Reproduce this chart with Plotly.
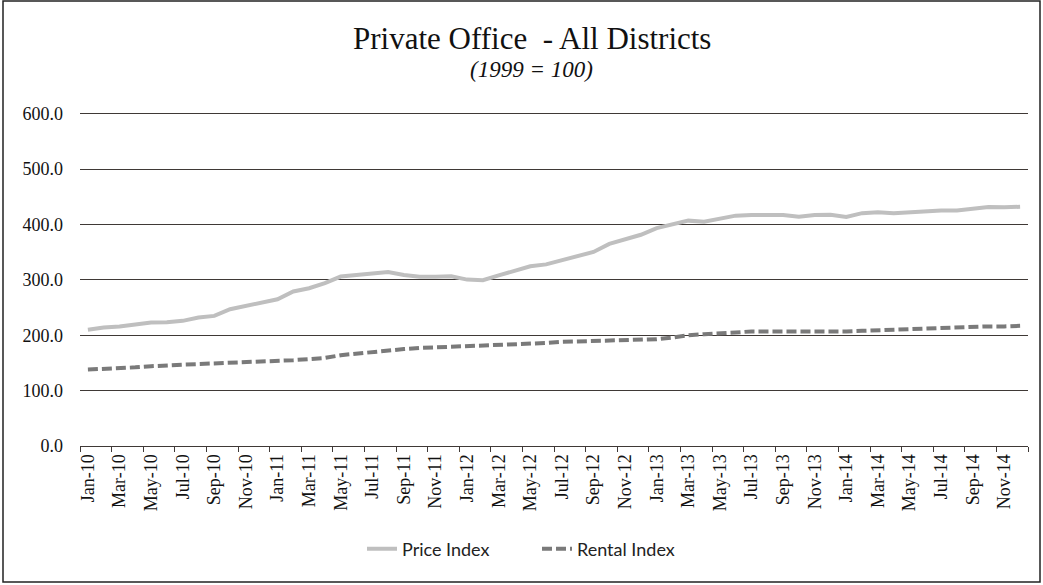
import plotly.graph_objects as go

months = ["Jan", "Feb", "Mar", "Apr", "May", "Jun", "Jul", "Aug", "Sep", "Oct", "Nov", "Dec"]
years = ["10", "11", "12", "13", "14"]
categories = [f"{m}-{y}" for y in years for m in months]

price_index = [210, 214, 216, 220, 223, 223.5, 226, 232, 235, 247, 253, 258,
               265, 279, 285, 294, 306, 309, 311, 314, 309, 305.5, 305.5, 306.5,
               300.5, 299.5, 308, 317, 324.5, 328, 335, 342.5, 350.5, 365, 372.5, 381.5,
               393.5, 401, 407, 405, 411, 416, 417, 416.5, 417, 414, 417, 417.5,
               413.5, 420.5, 422, 420.5, 422, 424.5, 425.5, 425.5, 429, 431.5, 431, 432]

rental_index = [138, 139, 141, 142, 144, 146, 147, 148, 149, 151, 152, 153,
                154, 155, 157, 159, 164, 167, 170, 173, 175, 177, 178, 179,
                180, 181, 182, 183, 184, 186, 188, 189, 190, 191, 191, 192,
                193, 196, 200, 202, 203, 205, 207, 207, 206, 207, 207, 207,
                207, 208, 209, 210, 211, 212, 214, 215, 215, 216, 216, 217]

y_ticks = [0, 100, 200, 300, 400, 500, 600]

fig = go.Figure()
fig.add_trace(go.Scatter(x=categories, y=price_index, name="Price Index", mode="lines",
                         line=dict(color="#bfbfbf", width=4)))
fig.add_trace(go.Scatter(x=categories, y=rental_index, name="Rental Index", mode="lines",
                         line=dict(color="#7a7a7a", width=4, dash="10px,4px")))

W, H = 1043, 585
L, R, T, B = 80, 15, 111, 139
pw, ph = W - L - R, H - T - B

def px(xp):
    return (xp - L) / pw

def py(yp):
    return (H - B - yp) / ph

fig.update_layout(
    width=W, height=H,
    margin=dict(l=L, r=R, t=T, b=B),
    paper_bgcolor="white", plot_bgcolor="white",
    showlegend=True,
    legend=dict(orientation="h", x=px(362), xanchor="left", y=py(549), yanchor="middle",
                font=dict(family="Lato", size=18, color="#222"),
                entrywidth=130, entrywidthmode="pixels", tracegroupgap=0),
    xaxis=dict(type="category", tickmode="linear", tick0=0, dtick=2, tickson="boundaries",
               ticks="outside", ticklen=5, tickcolor="#3f3936", tickwidth=1,
               showline=True, linecolor="#3f3936", linewidth=1.3, showgrid=False,
               tickangle=-90, tickfont=dict(family="Liberation Serif", size=18, color="#111"),
               range=[-0.5, 59.5]),
    yaxis=dict(range=[0, 605], tickvals=y_ticks, tickformat=".1f", showgrid=True,
               gridcolor="#3f3936", gridwidth=1.3, zeroline=False, showline=False,
               ticks="", ticklabelstandoff=16,
               tickfont=dict(family="Liberation Serif", size=18, color="#111")),
    annotations=[
        dict(text="Private Office  - All Districts", xref="paper", yref="paper",
             x=px(532), y=py(38), xanchor="center", yanchor="middle", showarrow=False,
             font=dict(family="Liberation Serif", size=31, color="#111")),
        dict(text="<i>(1999 = 100)</i>", xref="paper", yref="paper",
             x=px(531), y=py(69), xanchor="center", yanchor="middle", showarrow=False,
             font=dict(family="Liberation Serif", size=23, color="#111")),
    ],
    shapes=[dict(type="rect", xref="paper", yref="paper", x0=px(3), x1=px(1040), y0=py(582), y1=py(1),
                 line=dict(color="#222", width=1.5), fillcolor="rgba(0,0,0,0)", layer="below")],
)

fig.write_html("out.html")
